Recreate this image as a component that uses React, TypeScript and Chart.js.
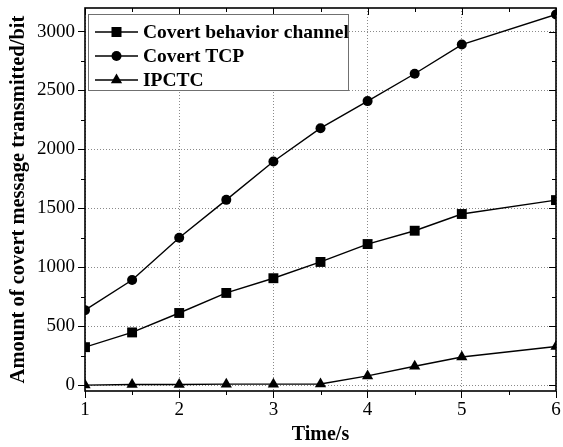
import React, { useEffect, useRef } from "react";
import { Chart, registerables } from "chart.js";

Chart.register(...registerables);

const FONT = "'Liberation Serif', 'Times New Roman', serif";

const timeValues = [1, 1.5, 2, 2.5, 3, 3.5, 4, 4.5, 5, 6];
const behaviorChannel = [322, 447, 612, 782, 907, 1045, 1197, 1310, 1452, 1570];
const covertTCP = [636, 892, 1250, 1572, 1897, 2180, 2410, 2642, 2890, 3145];
const ipctc = [0, 5, 5, 8, 8, 10, 78, 160, 238, 328];

const seriesNames = ["Covert behavior channel", "Covert TCP", "IPCTC"];
const seriesStyles = ["rect", "circle", "triangle"];

const xTicks = [1, 2, 3, 4, 5, 6];
const xMinorTicks = [1.5, 2.5, 3.5, 4.5, 5.5];
const yTicks = [0, 500, 1000, 1500, 2000, 2500, 3000];
const yMinorTicks = [250, 750, 1250, 1750, 2250, 2750];

const xTitle = "Time/s";
const yTitle = "Amount of covert message transmitted/bit";

function drawMarker(ctx: CanvasRenderingContext2D, style: string, x: number, y: number) {
  ctx.beginPath();
  if (style === "rect") {
    ctx.rect(x - 5, y - 5, 10, 10);
  } else if (style === "circle") {
    ctx.arc(x, y, 5, 0, Math.PI * 2);
  } else {
    const r = 6.5;
    ctx.moveTo(x, y - r);
    ctx.lineTo(x + r * Math.sin((2 * Math.PI) / 3), y + r / 2);
    ctx.lineTo(x - r * Math.sin((2 * Math.PI) / 3), y + r / 2);
    ctx.closePath();
  }
  ctx.fill();
}

const framePlugin = {
  id: "framePlugin",
  afterDraw(chart: any) {
    const ctx: CanvasRenderingContext2D = chart.ctx;
    const { left, right, top, bottom } = chart.chartArea;
    const xs = chart.scales.x;
    const ys = chart.scales.y;
    ctx.save();
    ctx.strokeStyle = "#000";
    ctx.lineWidth = 1;
    ctx.beginPath();
    xMinorTicks.forEach((v) => {
      const px = Math.round(xs.getPixelForValue(v)) + 0.5;
      ctx.moveTo(px, bottom);
      ctx.lineTo(px, bottom + 4);
      ctx.moveTo(px, top);
      ctx.lineTo(px, top + 4);
    });
    xTicks.forEach((v) => {
      const px = Math.round(xs.getPixelForValue(v)) + 0.5;
      ctx.moveTo(px, top);
      ctx.lineTo(px, top + 7);
    });
    yMinorTicks.forEach((v) => {
      const py = Math.round(ys.getPixelForValue(v)) + 0.5;
      ctx.moveTo(left, py);
      ctx.lineTo(left - 4, py);
      ctx.moveTo(right, py);
      ctx.lineTo(right - 4, py);
    });
    yTicks.forEach((v) => {
      const py = Math.round(ys.getPixelForValue(v)) + 0.5;
      ctx.moveTo(right, py);
      ctx.lineTo(right - 7, py);
    });
    ctx.stroke();

    ctx.lineWidth = 1.6;
    ctx.strokeRect(left, top, right - left, bottom - top);

    const bx = 88.5, by = 14.5, bw = 260, bh = 76;
    ctx.fillStyle = "#fff";
    ctx.fillRect(bx, by, bw, bh);
    ctx.strokeStyle = "#707070";
    ctx.lineWidth = 1;
    ctx.strokeRect(bx, by, bw, bh);
    const rows = [32, 56, 80];
    ctx.font = `bold 19.5px ${FONT}`;
    ctx.textBaseline = "middle";
    ctx.textAlign = "left";
    chart.data.datasets.forEach((ds: any, i: number) => {
      const y = rows[i];
      ctx.strokeStyle = "#000";
      ctx.lineWidth = 1.4;
      ctx.beginPath();
      ctx.moveTo(95, y);
      ctx.lineTo(138, y);
      ctx.stroke();
      ctx.fillStyle = "#000";
      drawMarker(ctx, seriesStyles[i], 116.5, y);
      ctx.fillText(ds.label, 143, y + 1);
    });
    ctx.restore();
  },
};

export default function App() {
  const canvasRef = useRef<HTMLCanvasElement | null>(null);

  useEffect(() => {
    document.body.style.margin = "0";
    const canvas = canvasRef.current;
    if (!canvas) return;
    const seriesValues = [behaviorChannel, covertTCP, ipctc];
    const radii = [7, 5, 6.5];
    const chart = new Chart(canvas, {
      type: "line",
      data: {
        datasets: seriesNames.map((name, i) => ({
          label: name,
          data: timeValues.map((t, j) => ({ x: t, y: seriesValues[i][j] })),
          borderColor: "#000",
          backgroundColor: "#000",
          borderWidth: 1.4,
          pointStyle: seriesStyles[i] as any,
          pointRadius: radii[i],
          pointBackgroundColor: "#000",
          pointBorderColor: "#000",
          pointBorderWidth: 0,
          tension: 0,
        })),
      },
      options: {
        responsive: false,
        animation: false,
        layout: { padding: { top: 8, right: 4, left: 0, bottom: 0 } },
        plugins: {
          legend: { display: false },
          tooltip: { enabled: false },
        },
        scales: {
          x: {
            type: "linear",
            min: 1,
            max: 6,
            afterBuildTicks: (s: any) => {
              s.ticks = xTicks.map((v) => ({ value: v }));
            },
            afterFit: (s: any) => {
              s.height = 56;
              s.paddingLeft = 0;
              s.paddingRight = 0;
            },
            ticks: {
              font: { family: FONT, size: 19 },
              color: "#000",
              padding: 1,
              maxRotation: 0,
              autoSkip: false,
              callback: (v: any) => String(v),
            },
            grid: {
              color: "#8a8a8a",
              lineWidth: 1,
              tickLength: 7,
              tickColor: "#000",
              tickWidth: 1,
              drawTicks: true,
            },
            border: { display: false, dash: [1, 2] },
            title: {
              display: true,
              text: xTitle,
              color: "#000",
              font: { family: FONT, size: 20, weight: "bold" },
              padding: { top: 0, bottom: 0 },
            },
          },
          y: {
            type: "linear",
            min: -50,
            max: 3200,
            afterBuildTicks: (s: any) => {
              s.ticks = yTicks.map((v) => ({ value: v }));
            },
            afterFit: (s: any) => {
              s.width = 85;
              s.paddingTop = 0;
              s.paddingBottom = 0;
            },
            ticks: {
              font: { family: FONT, size: 19 },
              color: "#000",
              padding: 3,
              autoSkip: false,
              callback: (v: any) => String(v),
            },
            grid: {
              color: "#8a8a8a",
              lineWidth: 1,
              tickLength: 7,
              tickColor: "#000",
              tickWidth: 1,
              drawTicks: true,
            },
            border: { display: false, dash: [1, 2] },
            title: {
              display: true,
              text: yTitle,
              color: "#000",
              font: { family: FONT, size: 20.5, weight: "bold" },
              padding: { top: 6, bottom: 0 },
            },
          },
        },
      },
      plugins: [framePlugin],
    });
    return () => chart.destroy();
  }, []);

  return (
    <div style={{ position: "absolute", left: 0, top: 0, width: 563, height: 447, background: "#fff" }}>
      <canvas ref={canvasRef} width={563} height={447} />
    </div>
  );
}
